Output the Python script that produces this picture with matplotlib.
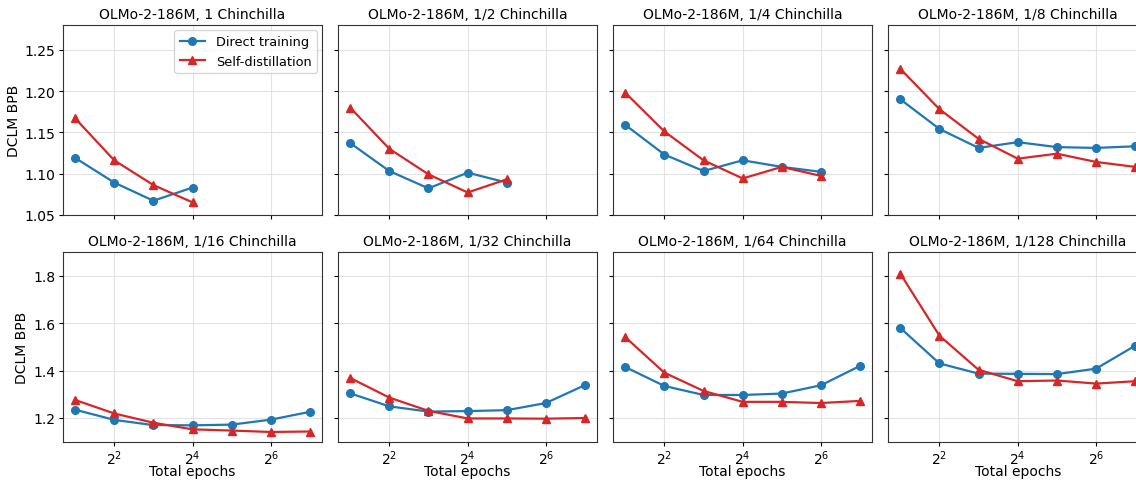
import matplotlib.pyplot as plt
from matplotlib.ticker import FixedLocator, NullLocator, LogFormatterSciNotation

# budgets, relative to Chinchilla
titles = ["OLMo-2-186M, 1 Chinchilla", "OLMo-2-186M, 1/2 Chinchilla",
          "OLMo-2-186M, 1/4 Chinchilla", "OLMo-2-186M, 1/8 Chinchilla",
          "OLMo-2-186M, 1/16 Chinchilla", "OLMo-2-186M, 1/32 Chinchilla",
          "OLMo-2-186M, 1/64 Chinchilla", "OLMo-2-186M, 1/128 Chinchilla"]

epochs = [2, 4, 8, 16, 32, 64, 128]

# DCLM BPB, direct training
direct = [
    [1.119, 1.089, 1.067, 1.083],
    [1.137, 1.103, 1.082, 1.101, 1.089],
    [1.159, 1.123, 1.103, 1.116, 1.108, 1.102],
    [1.190, 1.154, 1.131, 1.138, 1.132, 1.131, 1.133],
    [1.235, 1.192, 1.170, 1.169, 1.172, 1.193, 1.226],
    [1.304, 1.249, 1.227, 1.229, 1.233, 1.263, 1.339],
    [1.415, 1.335, 1.297, 1.297, 1.303, 1.338, 1.420],
    [1.580, 1.430, 1.387, 1.386, 1.385, 1.408, 1.505],
]

# DCLM BPB, self-distillation
selfdist = [
    [1.167, 1.116, 1.086, 1.065],
    [1.180, 1.130, 1.099, 1.077, 1.093],
    [1.198, 1.151, 1.116, 1.094, 1.108, 1.097],
    [1.227, 1.178, 1.142, 1.118, 1.124, 1.114, 1.108],
    [1.276, 1.219, 1.180, 1.152, 1.147, 1.141, 1.143],
    [1.369, 1.286, 1.230, 1.198, 1.198, 1.197, 1.200],
    [1.541, 1.391, 1.314, 1.268, 1.268, 1.263, 1.272],
    [1.809, 1.547, 1.403, 1.355, 1.358, 1.345, 1.355],
]

W, H = 1136, 481
fig, axes = plt.subplots(2, 4, figsize=(W / 100, H / 100), dpi=100, sharex=True, sharey='row')
fig.subplots_adjust(left=63.3 / W, right=1147 / W, top=1 - 26 / H, bottom=1 - 442.7 / H,
                    wspace=0.064, hspace=0.196)

for i, ax in enumerate(axes.flat):
    d = direct[i]
    s = selfdist[i]
    ax.plot(epochs[:len(d)], d, color='#1f77b4', marker='o', lw=1.6, ms=5.5, label='Direct training')
    ax.plot(epochs[:len(s)], s, color='#d62728', marker='^', lw=1.6, ms=5.5, label='Self-distillation')
    ax.set_xscale('log', base=2)
    ax.set_title(titles[i], fontsize=10, pad=5)
    ax.grid(True, color='#dddddd', lw=0.8, alpha=0.8)
    ax.set_axisbelow(True)
    for sp in ax.spines.values():
        sp.set_color('#333333')
    ax.tick_params(labelsize=10, length=3, pad=2.5)
    ax.tick_params(axis='x', pad=1.5)

ax0 = axes[0, 0]
ax0.xaxis.set_major_locator(FixedLocator([4, 16, 64]))
ax0.xaxis.set_minor_locator(NullLocator())
ax0.xaxis.set_major_formatter(LogFormatterSciNotation(base=2))

axes[0, 0].set_ylim(1.05, 1.28)
axes[0, 0].set_yticks([1.05, 1.10, 1.15, 1.20, 1.25])
axes[1, 0].set_ylim(1.1, 1.9)
axes[1, 0].set_yticks([1.2, 1.4, 1.6, 1.8])

axes[0, 0].set_ylabel('DCLM BPB', fontsize=10, labelpad=3)
axes[1, 0].set_ylabel('DCLM BPB', fontsize=10, labelpad=3)
for ax in axes[1]:
    ax.set_xlabel('Total epochs', fontsize=10, labelpad=-1.5)

axes[0, 0].legend(loc='upper right', fontsize=9.3, borderaxespad=0.4)

fig.savefig('out.png', dpi=100)
